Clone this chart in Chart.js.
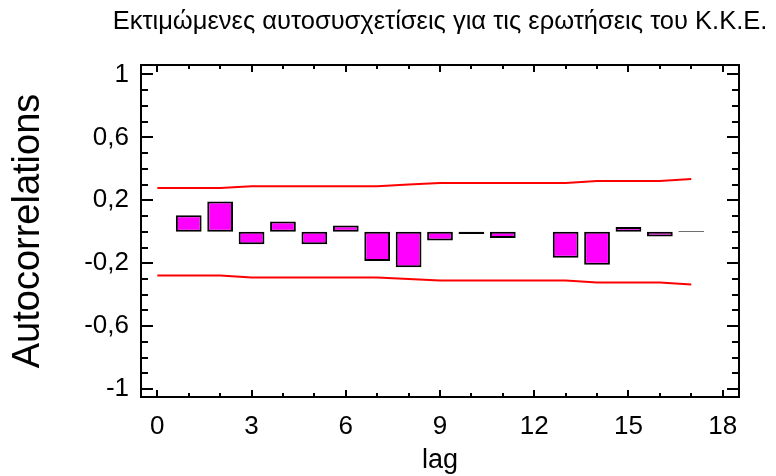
<!DOCTYPE html>
<html>
<head>
<meta charset="utf-8">
<script src="https://cdn.jsdelivr.net/npm/chart.js@4.4.0/dist/chart.umd.min.js"></script>
<style>
  html, body { margin: 0; padding: 0; background: #fff; }
</style>
</head>
<body>
<canvas id="acf-chart" width="776" height="476"></canvas>
<script>
const chartTitle = 'Εκτιμώμενες αυτοσυσχετίσεις για τις ερωτήσεις του Κ.Κ.Ε.'

// estimated autocorrelations per lag
const lags = [1, 2, 3, 4, 5, 6, 7, 8, 9, 10, 11, 12, 13, 14, 15, 16, 17]
const autocorr = [0.105, 0.193, -0.08, 0.065, -0.08, 0.04, -0.185, -0.225, -0.055, -0.014, -0.04, null, -0.165, -0.21, 0.03, -0.03, 0.005]

// 95% probability limits
const limitLags = [0, 1, 2, 3, 4, 5, 6, 7, 8, 9, 10, 11, 12, 13, 14, 15, 16, 17]
const upperLimit = [0.278, 0.278, 0.278, 0.29, 0.29, 0.29, 0.29, 0.29, 0.30, 0.31, 0.31, 0.31, 0.31, 0.31, 0.322, 0.322, 0.322, 0.335]
const lowerLimit = [-0.278, -0.278, -0.278, -0.29, -0.29, -0.29, -0.29, -0.29, -0.30, -0.31, -0.31, -0.31, -0.31, -0.31, -0.322, -0.322, -0.322, -0.335]

const xTicks = [0, 3, 6, 9, 12, 15, 18]
const yTicks = [-1, -0.6, -0.2, 0.2, 0.6, 1]

const fontFamily = '"Liberation Sans", Arial, sans-serif'

// box round the plot, inward tick marks and the title
const framePlugin = {
  id: 'frame',
  afterDatasetsDraw(chart) {
    const {ctx, chartArea: a, scales: {x, y}} = chart
    ctx.save()
    ctx.strokeStyle = '#000'
    ctx.lineWidth = 2
    ctx.strokeRect(a.left, a.top, a.right - a.left, a.bottom - a.top)
    ctx.beginPath()
    for (let v = 0; v <= 18; v++) {
      const px = Math.round(x.getPixelForValue(v))
      const len = xTicks.includes(v) ? 7 : 4
      ctx.moveTo(px, a.top); ctx.lineTo(px, a.top + len)
      ctx.moveTo(px, a.bottom); ctx.lineTo(px, a.bottom - len)
    }
    for (let i = -10; i <= 10; i++) {
      const v = i / 10
      const py = Math.round(y.getPixelForValue(v))
      const len = yTicks.some(t => Math.abs(t - v) < 1e-9) ? 12 : 7
      ctx.moveTo(a.left, py); ctx.lineTo(a.left + len, py)
      ctx.moveTo(a.right, py); ctx.lineTo(a.right - len, py)
    }
    ctx.stroke()

    ctx.fillStyle = '#000'
    ctx.font = '25.5px ' + fontFamily
    ctx.textAlign = 'center'
    ctx.textBaseline = 'middle'
    ctx.fillText(chartTitle, (a.left + a.right) / 2, 22)
    ctx.restore()
  }
}

const ctx = document.getElementById('acf-chart').getContext('2d')
const acfChart = new Chart(ctx, {
  type: 'bar',
  data: {
    datasets: [
      {
        type: 'bar',
        data: lags.map((l, i) => ({x: l, y: autocorr[i]})),
        backgroundColor: '#ff00ff',
        borderColor: '#000',
        borderWidth: 2,
        borderSkipped: false,
        barPercentage: 0.82,
        categoryPercentage: 1,
        order: 2
      },
      {
        type: 'line',
        data: limitLags.map((l, i) => ({x: l, y: upperLimit[i]})),
        borderColor: '#ff0000',
        borderWidth: 2,
        pointRadius: 0,
        fill: false,
        order: 1
      },
      {
        type: 'line',
        data: limitLags.map((l, i) => ({x: l, y: lowerLimit[i]})),
        borderColor: '#ff0000',
        borderWidth: 2,
        pointRadius: 0,
        fill: false,
        order: 1
      }
    ]
  },
  options: {
    responsive: false,
    animation: false,
    layout: {padding: {top: 65, right: 37, bottom: 0, left: 2}},
    plugins: {
      legend: {display: false},
      tooltip: {enabled: false}
    },
    scales: {
      x: {
        type: 'linear',
        offset: false,
        min: -0.52,
        max: 18.52,
        afterBuildTicks: s => { s.ticks = xTicks.map(v => ({value: v})) },
        afterFit: s => { s.height = 79 },
        grid: {display: false, drawTicks: false},
        border: {display: false},
        ticks: {color: '#000', font: {family: fontFamily, size: 26}, padding: 14, maxRotation: 0, autoSkip: false},
        title: {
          display: true,
          text: 'lag',
          color: '#000',
          padding: {top: 0, bottom: 0},
          font: {family: fontFamily, size: 27, lineHeight: 1.13}
        }
      },
      y: {
        min: -1.05,
        max: 1.06,
        afterBuildTicks: s => { s.ticks = yTicks.map(v => ({value: v})) },
        afterFit: s => { s.width = 139 },
        grid: {display: false, drawTicks: false},
        border: {display: false},
        ticks: {
          color: '#000',
          font: {family: fontFamily, size: 26},
          padding: 12,
          autoSkip: false,
          callback: v => String(v).replace('.', ',')
        },
        title: {display: true, text: 'Autocorrelations', color: '#000', font: {family: fontFamily, size: 38}}
      }
    }
  },
  plugins: [framePlugin]
})
</script>
</body>
</html>
